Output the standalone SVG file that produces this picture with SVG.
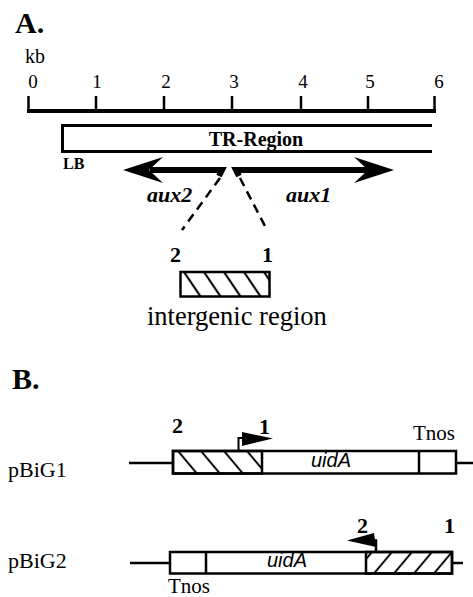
<svg xmlns="http://www.w3.org/2000/svg" width="473" height="597" viewBox="0 0 473 597">
<style>
.serif{font-family:"Liberation Serif","Times New Roman",serif;fill:#000}
.b{font-weight:bold}
.bi{font-weight:bold;font-style:italic}
.sans{font-family:"Liberation Sans",Arial,sans-serif;font-style:italic;fill:#000}
.ln{stroke:#000;fill:none}
.box{stroke:#000;stroke-width:2.5;fill:#fff}
</style>
<defs>
<pattern id="hA" patternUnits="userSpaceOnUse" width="20" height="40" patternTransform="translate(182,272) skewX(34)">
<line x1="2" y1="-5" x2="2" y2="45" stroke="#000" stroke-width="2.5"/>
</pattern>
<pattern id="hB" patternUnits="userSpaceOnUse" width="23" height="40" patternTransform="translate(176,451) skewX(40)">
<line x1="2" y1="-5" x2="2" y2="45" stroke="#000" stroke-width="2.5"/>
</pattern>
<pattern id="hC" patternUnits="userSpaceOnUse" width="20" height="40" patternTransform="translate(370,552) skewX(-40)">
<line x1="2" y1="-5" x2="2" y2="45" stroke="#000" stroke-width="2.5"/>
</pattern>
</defs>

<g id="panelA">
<text class="serif b" x="15" y="33" font-size="30">A.</text>
<g id="scale">
<text class="serif" x="25" y="63" font-size="20">kb</text>
<g class="serif" font-size="19" text-anchor="middle">
<text x="33" y="88">0</text>
<text x="97" y="88">1</text>
<text x="166" y="88">2</text>
<text x="234" y="88">3</text>
<text x="303" y="88">4</text>
<text x="370" y="88">5</text>
<text x="439" y="88">6</text>
</g>
<line class="ln" x1="27" y1="111" x2="436" y2="111" stroke-width="4"/>
<g class="ln" stroke-width="2.5">
<line x1="28.5" y1="96" x2="28.5" y2="111"/>
<line x1="96" y1="96" x2="96" y2="111"/>
<line x1="164" y1="96" x2="164" y2="111"/>
<line x1="232" y1="96" x2="232" y2="111"/>
<line x1="301" y1="96" x2="301" y2="111"/>
<line x1="368" y1="96" x2="368" y2="111"/>
<line x1="434.5" y1="96" x2="434.5" y2="111"/>
</g>
</g>
<g id="tr-region">
<path class="ln" d="M432,125.5 H62.5 V151.5 H432" stroke-width="3"/>
<text class="serif b" x="256" y="146" font-size="20" text-anchor="middle">TR-Region</text>
<text class="serif b" x="63" y="169" font-size="16">LB</text>
</g>
<g id="aux2">
<path class="ln" d="M150,170 H222 L219,176" stroke-width="6"/>
<polygon points="123,170 163,157 149,170 163,183" fill="#000"/>
<text class="serif bi" x="147" y="202" font-size="22">aux2</text>
</g>
<g id="aux1">
<path class="ln" d="M239,176 L236,170 H368" stroke-width="6"/>
<polygon points="394,170 354,157 368,170 354,183" fill="#000"/>
<text class="serif bi" x="286" y="202" font-size="22">aux1</text>
</g>
<g id="intergenic">
<text class="serif b" x="170" y="262" font-size="22">2</text>
<text class="serif b" x="262" y="262" font-size="22">1</text>
<rect x="180.5" y="272" width="89" height="24.5" fill="url(#hA)" stroke="#000" stroke-width="2.5"/>
<text class="serif" x="147" y="325" font-size="26.5">intergenic region</text>
</g>
</g>

<g id="connectors">
<line class="ln" x1="220" y1="178" x2="182" y2="230" stroke-width="2.5" stroke-dasharray="9,6"/>
<line class="ln" x1="240" y1="178" x2="267" y2="230" stroke-width="2.5" stroke-dasharray="9,6"/>
</g>

<g id="panelB">
<text class="serif b" x="12" y="389" font-size="30">B.</text>
<g id="pBiG1">
<text class="serif" x="8" y="477" font-size="22">pBiG1</text>
<line class="ln" x1="129" y1="463" x2="173" y2="463" stroke-width="2.5"/>
<line class="ln" x1="456" y1="463" x2="473" y2="463" stroke-width="2.5"/>
<rect class="box" x="173" y="451" width="283" height="22.5"/>
<rect x="173" y="451" width="89" height="22.5" fill="url(#hB)" stroke="#000" stroke-width="2.5"/>
<line class="ln" x1="419" y1="451" x2="419" y2="473.5" stroke-width="2.5"/>
<text class="sans" x="331" y="467" font-size="20" text-anchor="middle">uidA</text>
<text class="serif b" x="172" y="433" font-size="22">2</text>
<text class="serif b" x="259" y="434" font-size="22">1</text>
<text class="serif" x="413" y="440" font-size="21">Tnos</text>
<path class="ln" d="M238.5,451 V438 H244" stroke-width="2"/>
<polygon points="242,432 273,438.5 242,446" fill="#000"/>
</g>
<g id="pBiG2">
<text class="serif" x="8" y="568" font-size="22">pBiG2</text>
<line class="ln" x1="130" y1="563" x2="170" y2="563" stroke-width="2.5"/>
<line class="ln" x1="452" y1="563" x2="463" y2="563" stroke-width="2.5"/>
<rect class="box" x="170" y="552" width="282" height="21.5"/>
<rect x="366" y="552" width="86" height="21.5" fill="url(#hC)" stroke="#000" stroke-width="2.5"/>
<line class="ln" x1="206" y1="552" x2="206" y2="573.5" stroke-width="2.5"/>
<text class="sans" x="287" y="567" font-size="20" text-anchor="middle">uidA</text>
<text class="serif b" x="357" y="533" font-size="22">2</text>
<text class="serif b" x="444" y="533" font-size="22">1</text>
<text class="serif" x="168" y="593" font-size="21">Tnos</text>
<path class="ln" d="M376,552 V540.5 H372" stroke-width="2.5"/>
<polygon points="347,540.5 374,533 376,547" fill="#000"/>
</g>
</g>
</svg>
